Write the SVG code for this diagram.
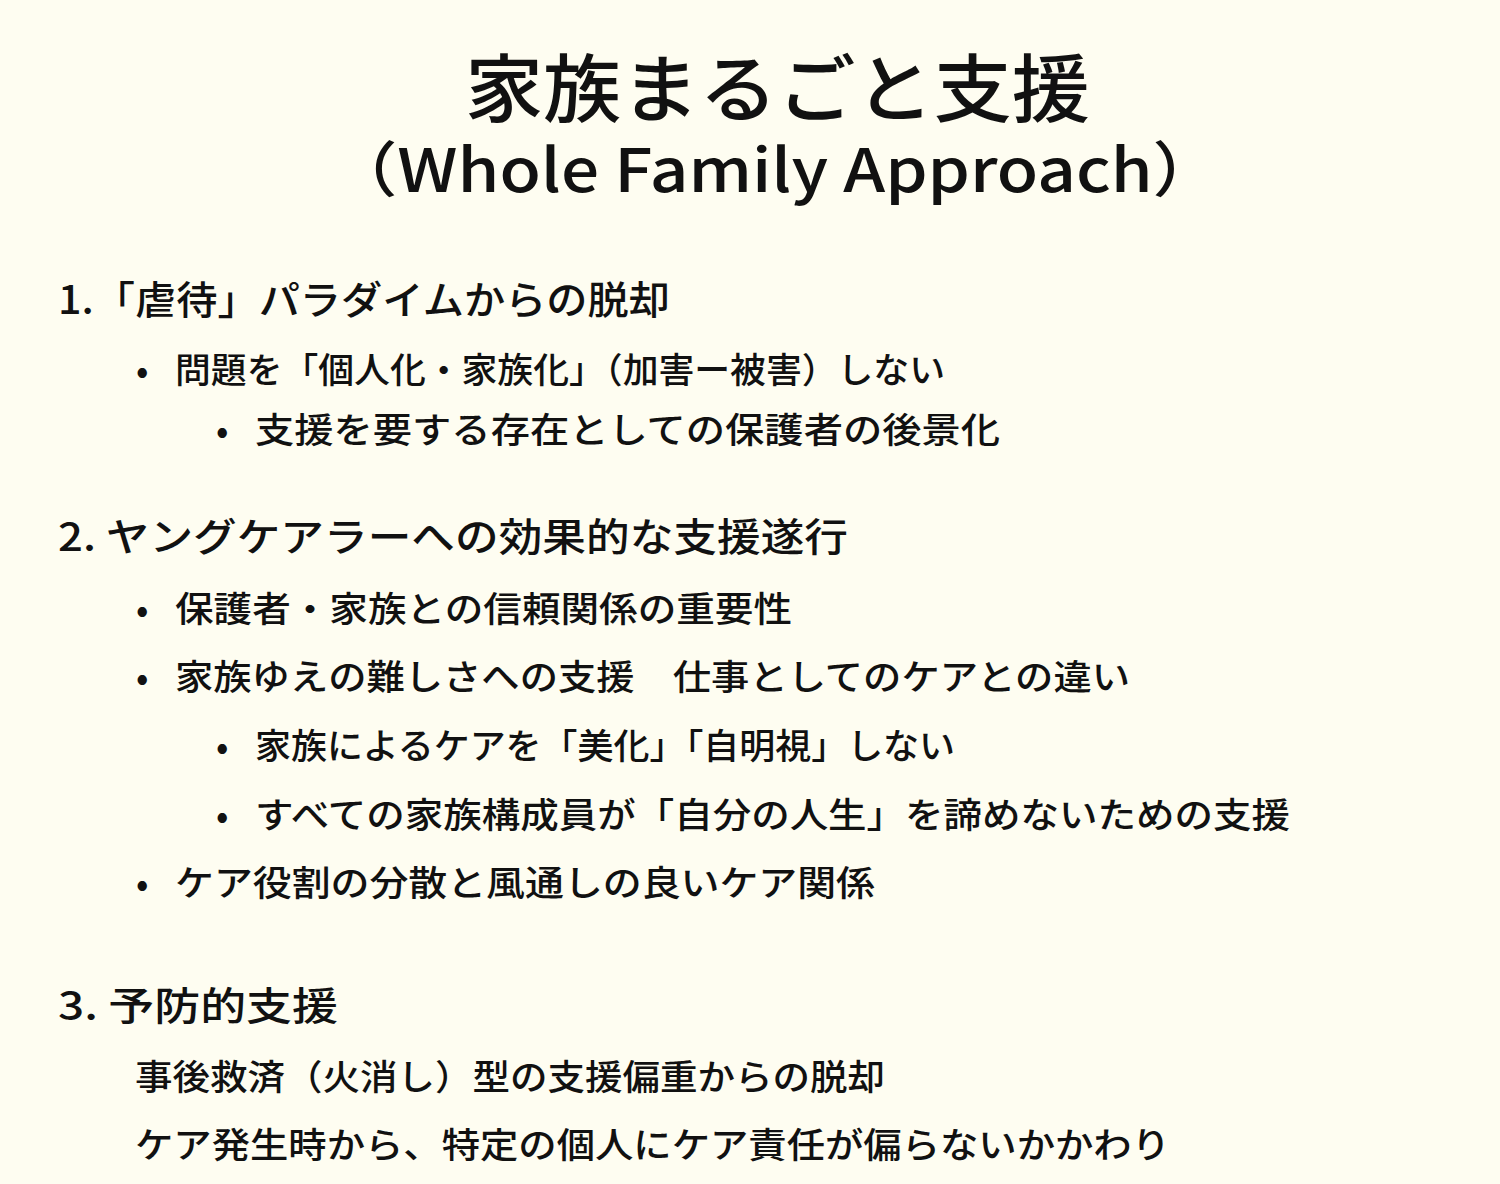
<svg xmlns="http://www.w3.org/2000/svg" width="1500" height="1184" viewBox="0 0 1500 1184">
<style>
text{font-family:"Noto Sans CJK JP","Noto Sans",sans-serif;fill:#111;font-weight:500}
.h{font-size:39px}
.b{font-size:35px}
</style>
<rect width="1500" height="1184" fill="#FEFDF1"/>
<text x="465" y="116" font-size="74" textLength="625" lengthAdjust="spacingAndGlyphs">家族まるごと支援</text>
<text x="330" y="192" font-size="60" textLength="890" lengthAdjust="spacingAndGlyphs">（Whole Family Approach）</text>
<text class="h" x="58" y="314" textLength="612" lengthAdjust="spacingAndGlyphs">1.「虐待」パラダイムからの脱却</text>
<text class="b" x="136" y="383">•</text><text class="b" x="175" y="383" textLength="770" lengthAdjust="spacingAndGlyphs">問題を「個人化・家族化」（加害ー被害）しない</text>
<text class="b" x="216" y="443">•</text><text class="b" x="255" y="443" textLength="745" lengthAdjust="spacingAndGlyphs">支援を要する存在としての保護者の後景化</text>
<text class="h" x="58" y="551" textLength="790" lengthAdjust="spacingAndGlyphs">2. ヤングケアラーへの効果的な支援遂行</text>
<text class="b" x="136" y="622">•</text><text class="b" x="175" y="622" textLength="617" lengthAdjust="spacingAndGlyphs">保護者・家族との信頼関係の重要性</text>
<text class="b" x="136" y="690">•</text><text class="b" x="175" y="690" textLength="955" lengthAdjust="spacingAndGlyphs">家族ゆえの難しさへの支援　仕事としてのケアとの違い</text>
<text class="b" x="216" y="759">•</text><text class="b" x="255" y="759" textLength="700" lengthAdjust="spacingAndGlyphs">家族によるケアを「美化」「自明視」しない</text>
<text class="b" x="216" y="828">•</text><text class="b" x="255" y="828" textLength="1035" lengthAdjust="spacingAndGlyphs">すべての家族構成員が「自分の人生」を諦めないための支援</text>
<text class="b" x="136" y="896">•</text><text class="b" x="175" y="896" textLength="700" lengthAdjust="spacingAndGlyphs">ケア役割の分散と風通しの良いケア関係</text>
<text class="h" x="58" y="1020" textLength="280" lengthAdjust="spacingAndGlyphs">3. 予防的支援</text>
<text class="b" x="135" y="1090" textLength="750" lengthAdjust="spacingAndGlyphs">事後救済（火消し）型の支援偏重からの脱却</text>
<text class="b" x="135" y="1158" textLength="1035" lengthAdjust="spacingAndGlyphs">ケア発生時から、特定の個人にケア責任が偏らないかかわり</text>
</svg>
